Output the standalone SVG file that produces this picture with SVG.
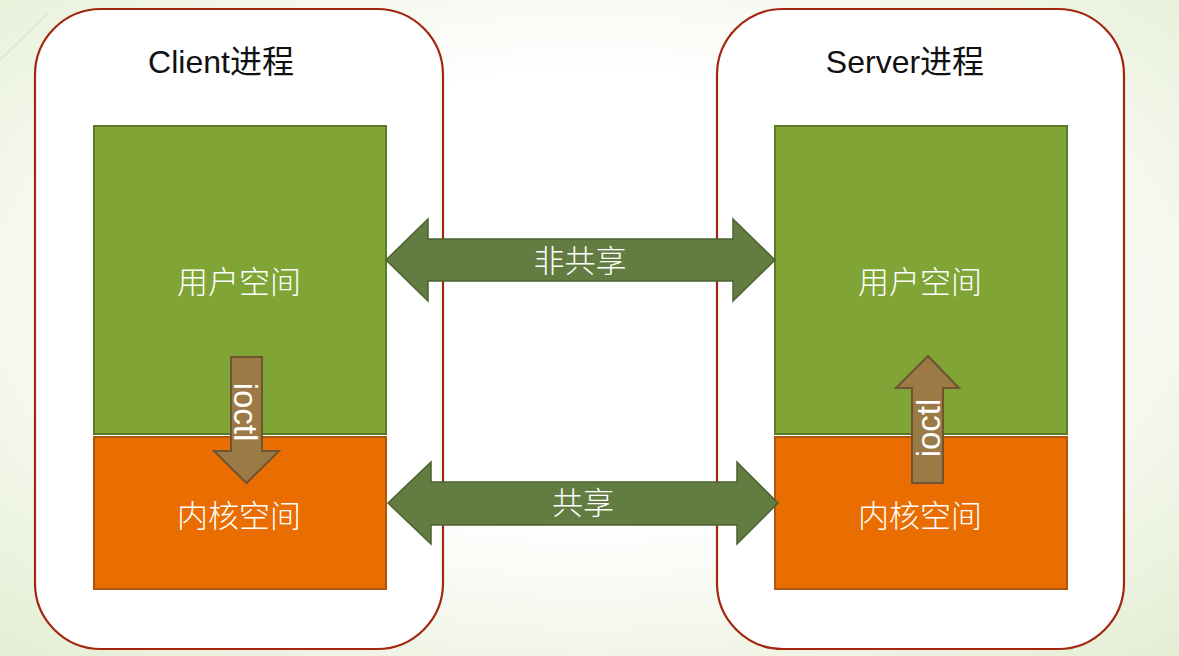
<svg xmlns="http://www.w3.org/2000/svg" width="1179" height="656" viewBox="0 0 1179 656">
  <defs>
    <radialGradient id="bg" cx="50%" cy="45%" r="75%">
      <stop offset="0.45" stop-color="#ffffff"/>
      <stop offset="1" stop-color="#e4edd2"/>
    </radialGradient>
    <style>
      .proc { fill: #ffffff; stroke: #a3260f; stroke-width: 2.2; }
      .user { fill: #80a435; stroke: #5c7a25; stroke-width: 2; }
      .kern { fill: #e96d00; stroke: #b0550e; stroke-width: 2; }
      .dbl { fill: #627c41; stroke: #4b6330; stroke-width: 1.5; }
      .ioctl { fill: #9c7a45; stroke: #6f5430; stroke-width: 2; }
      .title { font-family: "Liberation Sans", "Noto Sans CJK SC", sans-serif; font-size: 32px; fill: #111111; text-anchor: middle; }
      .lbl { font-family: "Noto Sans CJK SC", sans-serif; font-size: 31px; fill: #ffffff; text-anchor: middle; font-weight: 300; }
      .io { font-family: "Liberation Sans", sans-serif; font-size: 33px; fill: #ffffff; text-anchor: middle; }
    </style>
  </defs>
  <rect x="0" y="0" width="1179" height="656" fill="url(#bg)"/>
  <line x1="0" y1="60" x2="48" y2="13" stroke="#cfd6c2" stroke-width="1"/>

  <g id="client">
    <rect class="proc" x="35" y="9" width="408" height="640" rx="66" ry="66"/>
    <text class="title" x="221" y="73">Client进程</text>
  </g>
  <g id="server">
    <rect class="proc" x="717" y="9" width="407" height="640" rx="66" ry="66"/>
    <text class="title" x="905" y="73">Server进程</text>
  </g>

  <g id="client-user">
    <rect class="user" x="94" y="126" width="292" height="308"/>
    <text class="lbl" x="239" y="293">用户空间</text>
  </g>
  <g id="client-kernel">
    <rect class="kern" x="94" y="437" width="292" height="152"/>
    <text class="lbl" x="239" y="527">内核空间</text>
  </g>
  <g id="server-user">
    <rect class="user" x="775" y="126" width="292" height="308"/>
    <text class="lbl" x="920" y="293">用户空间</text>
  </g>
  <g id="server-kernel">
    <rect class="kern" x="775" y="437" width="292" height="152"/>
    <text class="lbl" x="920" y="527">内核空间</text>
  </g>

  <g id="connectors">
    <g id="nonshared">
      <polygon class="dbl" points="386,260 428,219 428,239 733,239 733,219 775,260 733,301 733,281 428,281 428,301"/>
      <text class="lbl" x="580" y="272">非共享</text>
    </g>
    <g id="shared">
      <polygon class="dbl" points="388,503 431,462 431,482 737,482 737,462 778,503 737,544 737,525 431,525 431,544"/>
      <text class="lbl" x="583" y="514">共享</text>
    </g>
    <g id="ioctl-client">
      <polygon class="ioctl" points="231,357 262,357 262,451 279,451 246.5,483 214,451 231,451"/>
      <text class="io" transform="translate(234,412) rotate(90)">ioctl</text>
    </g>
    <g id="ioctl-server">
      <polygon class="ioctl" points="928,356 959,388 943,388 943,483 912,483 912,388 896,388"/>
      <text class="io" transform="translate(940,428) rotate(-90)">ioctl</text>
    </g>
  </g>
</svg>
